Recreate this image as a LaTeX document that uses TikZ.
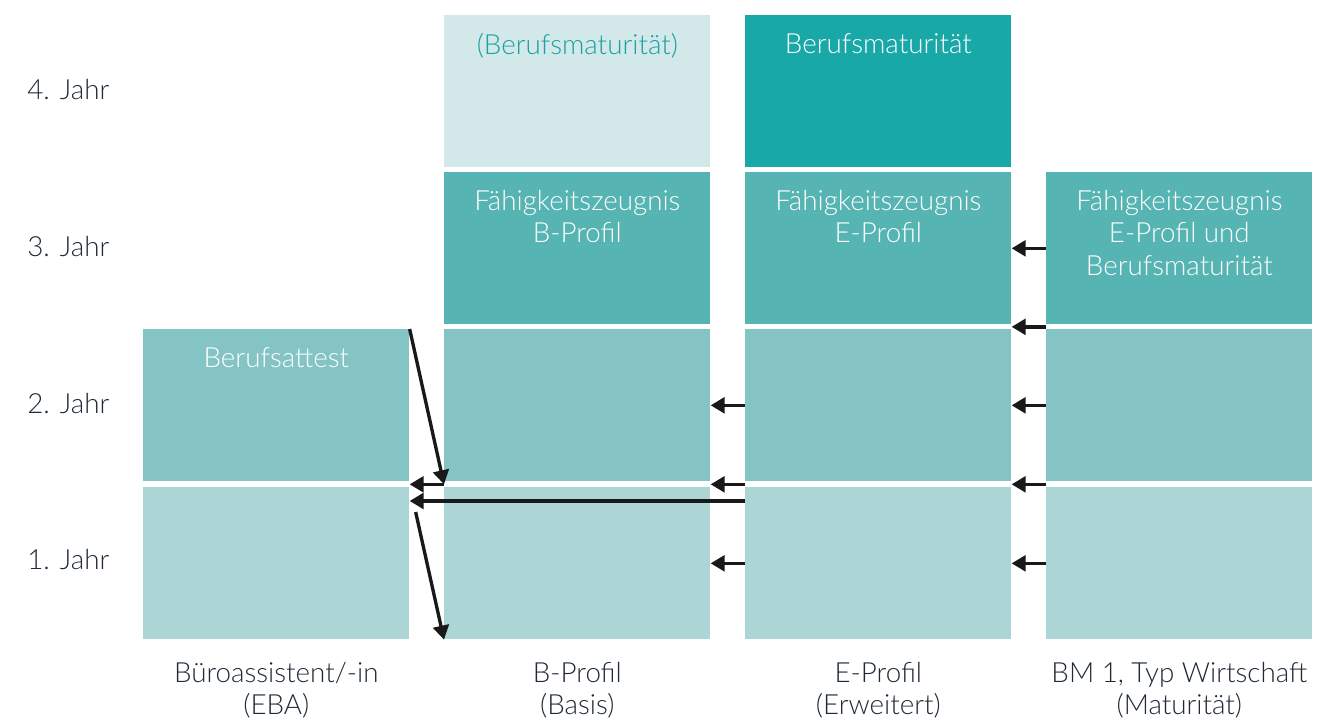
\documentclass[tikz,border=0pt]{standalone}
\usepackage{fontspec}
\setmainfont{Lato}[UprightFont={* Light}]
\usetikzlibrary{positioning,calc,arrows.meta}

\definecolor{yearone}{HTML}{ACD5D5}
\definecolor{yeartwo}{HTML}{84C4C4}
\definecolor{yearthree}{HTML}{56B4B3}
\definecolor{bmlight}{HTML}{D3E8E9}
\definecolor{bmdark}{HTML}{19A8A8}
\definecolor{bmtext}{HTML}{1BA0A5}
\definecolor{labeltext}{HTML}{1E2A36}

\begin{document}
\begin{tikzpicture}[x=0.02cm,y=-0.02cm]
        \tikzstyle{every node}=[font=\fontsize{15.8}{18.4}\selectfont]
        \tikzstyle{cell}=[rectangle, inner sep=0pt, anchor=north west,
            minimum width=5.32cm, minimum height=3.04cm]
        \tikzstyle{celltext}=[align=center, inner sep=0pt, text=white]
        \tikzstyle{yearlabel}=[anchor=west, inner sep=0pt, text=labeltext]
        \tikzstyle{collabel}=[align=center, inner sep=0pt, text=labeltext]
        \tikzstyle{move}=[line width=1.9pt, -{Triangle[length=8pt, width=9pt]}, black!90]

        \useasboundingbox (0,0) rectangle (1342,720);

        % year 4
        \node[cell, fill=bmlight] (b4) at (444,15) {};
        \node[cell, fill=bmdark] (e4) at (745,15) {};
        % year 3
        \node[cell, fill=yearthree] (b3) at (444,172) {};
        \node[cell, fill=yearthree] (e3) at (745,172) {};
        \node[cell, fill=yearthree] (m3) at (1046,172) {};
        % year 2
        \node[cell, fill=yeartwo] (a2) at (143,329) {};
        \node[cell, fill=yeartwo] (b2) at (444,329) {};
        \node[cell, fill=yeartwo] (e2) at (745,329) {};
        \node[cell, fill=yeartwo] (m2) at (1046,329) {};
        % year 1
        \foreach \name/\x in {a1/143, b1/444, e1/745, m1/1046}
            \node[cell, fill=yearone] (\name) at (\x,487) {};

        % texts in the boxes
        \node[celltext, text=bmtext, below=0.36cm of b4.north] (b4text) {(Berufsmaturität)};
        \node[celltext, below=0.36cm of e4.north] (e4text) {Berufsmaturität};
        \node[celltext, below=0.36cm of b3.north] (b3text) {Fähigkeitszeugnis\\B-Profil};
        \node[celltext, below=0.36cm of e3.north] (e3text) {Fähigkeitszeugnis\\E-Profil};
        \node[celltext, below=0.36cm of m3.north] (m3text) {Fähigkeitszeugnis\\E-Profil und\\Berufsmaturität};
        \node[celltext, below=0.36cm of a2.north] (a2text) {Berufsattest};

        % years
        \node[yearlabel] (y4) at (27,90) {4. Jahr};
        \node[yearlabel] (y3) at (27,247) {3. Jahr};
        \node[yearlabel] (y2) at (27,404) {2. Jahr};
        \node[yearlabel] (y1) at (27,560) {1. Jahr};

        % columns
        \node[collabel, below=0.44cm of a1.south] (acol) {Büroassistent/-in\\(EBA)};
        \node[collabel, below=0.44cm of b1.south] (bcol) {B-Profil\\(Basis)};
        \node[collabel, below=0.44cm of e1.south] (ecol) {E-Profil\\(Erweitert)};
        \node[collabel, below=0.44cm of m1.south] (mcol) {BM 1, Typ Wirtschaft\\(Maturität)};

        % changes between the profiles
        \coordinate (mesplit) at ($(m2.north west)!0.5!(m3.south west)$);
        \coordinate (emsplit) at ($(e2.north east)!0.5!(e3.south east)$);
        \coordinate (mlow) at ($(m2.south west)!0.5!(m1.north west)$);
        \coordinate (elowr) at ($(e2.south east)!0.5!(e1.north east)$);
        \coordinate (elow) at ($(e2.south west)!0.5!(e1.north west)$);
        \coordinate (blowr) at ($(b2.south east)!0.5!(b1.north east)$);
        \coordinate (blow) at ($(b2.south west)!0.5!(b1.north west)$);
        \coordinate (alowr) at ($(a2.south east)!0.5!(a1.north east)$);
        \coordinate (estart) at ($(e1.north west)+(0,14)$);
        \coordinate (aend) at ($(a1.north east)+(0,14)$);
        \coordinate (adown) at ($(a1.north east)+(6,25)$);

        \draw[move] (m3.west) -- (e3.east);
        \draw[move] (mesplit) -- (emsplit);
        \draw[move] (m2.west) -- (e2.east);
        \draw[move] (mlow) -- (elowr);
        \draw[move] (m1.west) -- (e1.east);
        \draw[move] (e2.west) -- (b2.east);
        \draw[move] (elow) -- (blowr);
        \draw[move] (e1.west) -- (b1.east);
        \draw[move] (estart) -- (aend);
        \draw[move] (a2.north east) -- (blow);
        \draw[move] (blow) -- (alowr);
        \draw[move] (adown) -- (b1.south west);
    \end{tikzpicture}
\end{document}
